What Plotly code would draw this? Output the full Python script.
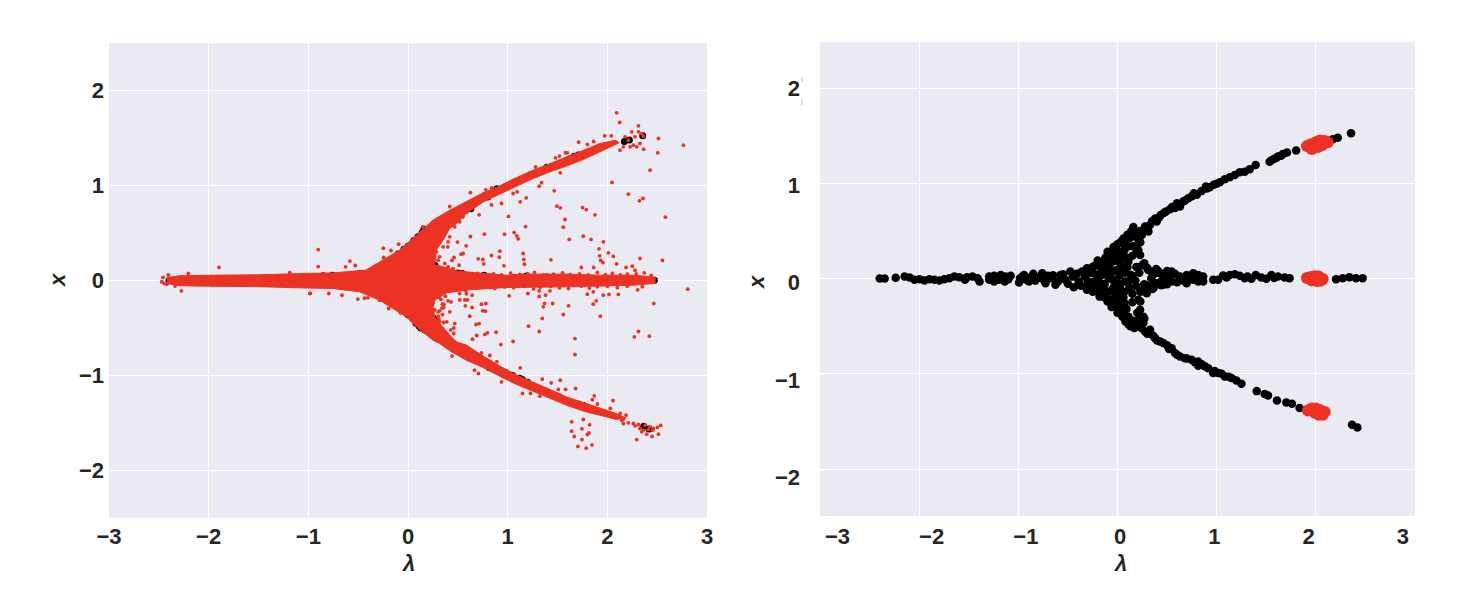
import plotly.graph_objects as go

# ---------- black sample (same points in both panels) ----------
stem_lam = [-2.398,-2.348,-2.237,-2.147,-2.097,-2.047,-1.997,-1.946,-1.896,-1.846,-1.796,-1.746,-1.696,-1.645,-1.595,-1.538,-1.518,-1.462,-1.411,-1.391,-1.294,-1.294,-1.244,-1.244,-1.194,-1.177,-1.137,-1.127,-1.077,-0.993,-0.983,-0.943,-0.893,-0.849,-0.809,-0.759,-0.726,-0.676,-0.625,-0.575,-0.525,-0.475,-0.441,-0.391,-0.358,-0.308,-0.308,-0.241,-1.27,-1.21,-1.16,-1.1,-0.96,-0.92,-0.87,-0.83,-0.78,-0.74,-0.7,-0.65,-0.6,-0.55,-0.5,-0.45,-0.41,-0.37,-0.33,-0.28]
stem_x = [0,0,0.007,0.021,0.01,-0.014,-0.007,-0.021,-0.007,-0.014,-0.021,-0.007,0.003,0.021,0.014,-0.014,0.014,0.021,0.003,-0.031,-0.014,0.021,-0.031,0.028,-0.014,0.038,-0.031,0.021,0.028,-0.042,0.003,0.038,-0.031,0.049,0.003,0.056,-0.049,0.003,-0.066,0.038,-0.014,0.073,-0.091,-0.031,0.073,0.108,-0.119,-0.031,0.005,-0.01,0.012,-0.008,0.02,-0.012,0.018,-0.022,0.025,-0.02,0.03,0.035,-0.03,0.045,-0.055,0.02,0.05,-0.075,0.02,-0.07]

fan_lam = [-0.24,-0.22,-0.2,-0.19,-0.18,-0.16,-0.14,-0.12,-0.1,-0.1,-0.09,-0.08,-0.06,-0.05,-0.04,-0.03,-0.02,0,0,0.01,0.01,0.02,0.03,0.03,0.04,0.05,0.05,0.06,0.07,0.07,0.08,0.08,0.09,0.09,0.1,0.1,0.11,0.12,0.12,0.13,0.14,0.14,0.15,0.15,0.16,0.17,0.18,0.19,0.2,0.21,0.22,0.05,0.1,0.06,0.13,0.16]
fan_x = [0.13,-0.13,0.19,0.02,-0.19,0.09,-0.1,0.22,0.28,-0.24,0,0.14,-0.3,0.07,0.33,-0.07,-0.18,0.36,-0.36,0.18,-0.26,0.03,0.38,-0.12,0.28,-0.4,0.1,-0.2,0.42,0.36,-0.45,-0.03,0.22,-0.32,0.46,0.12,-0.48,0.42,-0.1,0.04,0.5,-0.44,-0.25,0.24,0.34,-0.52,-0.02,0.12,-0.36,0.3,0.06,0.4,-0.42,0.42,-0.5,0.54]

fan2_lam = [-0.3,-0.3,-0.3,-0.25,-0.25,-0.25,-0.25,-0.21,-0.21,-0.21,-0.17,-0.17,-0.17,-0.17,-0.13,-0.13,-0.13,-0.13,-0.13,-0.09,-0.09,-0.09,-0.09,-0.05,-0.05,-0.05,-0.05,-0.05,-0.05,-0.01,-0.01,-0.01,-0.01,-0.01,-0.01,0.03,0.03,0.03,0.03,0.03,0.07,0.07,0.07,0.07,0.07,0.11,0.11,0.11,0.11,0.15,0.15,0.15,0.15,0.19,0.19,0.19,0.19,0.23,0.23,0.23,0.23,0.27,0.27,0.27,0.31,0.31,0.35,0.35,0.39,0.39,0.44,0.44,0.5,0.5]
fan2_x = [0.05,-0.03,-0.1,0.12,0.06,-0.05,-0.14,0.14,0.04,-0.08,0.17,0.03,-0.05,-0.16,0.2,0.12,0.05,-0.06,-0.2,0.24,0.08,-0.14,-0.22,0.26,0.18,-0.01,-0.11,-0.22,-0.27,0.3,0.24,0.09,-0.05,-0.14,-0.3,0.22,0.16,-0.06,-0.19,-0.33,0.3,0.06,-0.14,-0.26,-0.38,0.34,0.18,-0.04,-0.4,0.44,0.03,-0.16,-0.44,0.48,0.32,-0.08,-0.46,0.5,0.38,-0.14,-0.24,0.16,-0.06,-0.42,0.09,-0.08,0.06,-0.11,0.1,-0.05,0.05,-0.07,0.06,-0.06]

up_lam = [2.355,2.221,2.171,1.802,1.709,1.668,1.618,1.575,1.534,1.393,1.333,1.283,1.233,1.183,1.132,1.082,1.032,0.931,0.891,0.848,0.771,0.714,0.663,0.63,0.529,0.489,0.436,0.395,0.328,0.278,0.312,0.245,0.211,0.161,0.194,0.228,0.58,0.47,0.38,0.35,0.9,0.8,0.75,1.0,0.97,0.68,0.6,0.55,0.42,0.3,1.6,1.55,1.65]
up_x = [1.524,1.479,1.462,1.343,1.322,1.308,1.28,1.255,1.227,1.192,1.147,1.122,1.115,1.087,1.063,1.042,1.01,0.958,0.965,0.92,0.895,0.843,0.808,0.755,0.727,0.703,0.668,0.598,0.563,0.545,0.493,0.458,0.406,0.458,0.301,0.248,0.74,0.69,0.63,0.6,0.945,0.88,0.865,0.995,0.985,0.82,0.79,0.75,0.64,0.53,1.265,1.24,1.29]

mid_lam = [2.472,2.405,2.338,2.271,2.204,1.735,1.685,1.618,1.551,1.501,1.45,1.394,1.35,1.283,1.233,1.183,1.132,1.065,1.015,0.965,0.864,0.864,0.814,0.814,0.764,0.764,0.697,0.697,0.63,0.546,0.546,0.479,0.462,0.41,0.36,0.36,0.3,0.3,0.25,0.25,0.66,0.6,0.58,0.52,0.5,0.44,0.41,0.34,0.72,0.8,1.1,1.31,1.58]
mid_x = [0.003,0.003,0.014,0.003,-0.007,0.003,0.01,0.021,0.038,-0.003,0.01,0.038,-0.003,0.003,0.028,0.045,0.038,0.031,-0.014,-0.014,0.021,-0.031,0.038,-0.031,0.056,-0.014,-0.049,0.038,0.021,0.073,-0.031,0.003,-0.066,0.08,0.04,-0.06,0.11,-0.09,0.14,-0.13,-0.02,-0.04,0.05,0.01,0.08,-0.03,0.06,0,0.01,0.005,0.01,0.02,0.005]

low_lam = [2.419,2.365,1.836,1.759,1.702,1.608,1.518,1.484,1.404,1.25,1.199,1.149,1.082,1.015,0.965,0.915,0.814,0.814,0.747,0.68,0.63,0.546,0.58,0.462,0.429,0.379,0.328,0.278,0.261,0.211,0.178,0.228,0.211,0.295,0.362,0.5,0.6,0.7,0.78,0.85,0.88,0.98,1.05,1.12,0.4,0.3,0.24,0.36,0.26,0.52]
low_x = [-1.563,-1.535,-1.36,-1.315,-1.301,-1.28,-1.227,-1.213,-1.182,-1.105,-1.07,-1.045,-1.028,-0.993,-0.993,-0.941,-0.916,-0.871,-0.853,-0.836,-0.818,-0.731,-0.783,-0.678,-0.661,-0.626,-0.538,-0.556,-0.468,-0.434,-0.486,-0.329,-0.224,-0.154,-0.101,-0.7,-0.8,-0.84,-0.88,-0.9,-0.92,-0.97,-1.0,-1.03,-0.65,-0.58,-0.52,-0.6,-0.4,-0.74]

black_lam = stem_lam + fan_lam + fan2_lam + up_lam + mid_lam + low_lam
black_x = stem_x + fan_x + fan2_x + up_x + mid_x + low_x

# ---------- red envelope of the dense generated sample, left panel ----------
band_lam = [-2.42,-2.3,-2,-1.5,-1,-0.75,-0.42,-0.25,-0.084,0.084,0.25,0.419,0.586,0.754,0.92,1.09,1.256,1.424,1.59,1.76,1.926,2.08,2.12,1.926,1.76,1.59,1.424,1.256,1.09,0.92,0.754,0.586,0.486,0.419,0.352,0.285,0.268,0.318,0.486,0.754,0.988,1.256,1.59,1.926,2.26,2.48,2.48,2.26,1.59,0.988,0.586,0.386,0.268,0.251,0.268,0.335,0.419,0.486,0.586,0.754,0.92,1.09,1.256,1.424,1.59,1.76,1.926,2.09,2.19,2.09,1.926,1.76,1.59,1.424,1.256,1.09,0.92,0.754,0.586,0.419,0.318,0.251,0.084,-0.017,-0.151,-0.285,-0.486,-0.754,-1,-1.5,-2,-2.3,-2.42]
band_x = [0.03,0.05,0.055,0.06,0.075,0.08,0.11,0.214,0.32,0.477,0.635,0.74,0.828,0.923,0.996,1.084,1.161,1.23,1.295,1.37,1.442,1.477,1.45,1.354,1.274,1.204,1.144,1.074,0.993,0.905,0.828,0.705,0.6,0.547,0.425,0.32,0.16,0.154,0.102,0.074,0.056,0.067,0.067,0.056,0.056,0.035,-0.03,-0.05,-0.067,-0.074,-0.1,-0.13,-0.207,-0.277,-0.382,-0.47,-0.575,-0.646,-0.68,-0.796,-0.9,-0.996,-1.067,-1.147,-1.225,-1.284,-1.347,-1.4,-1.45,-1.463,-1.418,-1.375,-1.312,-1.242,-1.172,-1.095,-1.007,-0.916,-0.839,-0.74,-0.663,-0.628,-0.488,-0.382,-0.295,-0.207,-0.119,-0.084,-0.08,-0.065,-0.06,-0.055,-0.03]

# ---------- red scattered points, left panel ----------
above_lam = [2.094,2.124,2.312,2.513,2.764,2.506,2.365,2.429,2.047,2.211,2.322,2.358,2.583,1.317,1.467,1.528,1.055,1.095,1.126,1.186,0.838,0.938,1.494,1.528,1.752,1.789,1.876,1.575,1.558,1.008,1.179,0.714,1.065,1.092,1.106,0.968,0.767,0.626,1.618,1.759,1.836,1.96,1.916,2.01,1.923,2.06,1.933,1.956,2.094,2.328,2.553,1.156,1.162,1.169,1.434,0.921,0.915,0.838,0.704,0.75,0.76,0.962,1.739,1.863,2.188,2.251,2.278,0.553,0.533,0.462,0.442,0.513,0.583,0.496,0.399,-0.901,-0.901,-0.626,-0.583,-0.529,-0.248,-0.245,-0.171,-0.094,0.147,0.626,0.419,1.712,1.973,2.04,1.598,1.8,1.863,2.245,2.278,2.211,2.345,2.228,2.328,2.127,2.178,2.295,2.161,2.261,2.362,2.312]
above_x = [1.765,1.663,1.628,1.495,1.425,1.344,1.382,1.161,1.032,0.909,0.839,0.863,0.667,0.993,0.944,1.133,0.916,0.933,0.828,0.87,0.796,0.811,0.782,0.765,0.768,0.747,0.691,0.642,0.561,0.674,0.568,0.691,0.505,0.47,0.439,0.488,0.488,0.463,0.432,0.467,0.432,0.407,0.333,0.291,0.26,0.253,0.211,0.189,0.175,0.232,0.211,0.284,0.221,0.172,0.218,0.309,0.246,0.263,0.228,0.221,0.175,0.154,0.137,0.137,0.137,0.151,0.109,0.284,0.277,0.242,0.211,0.161,0.365,0.404,0.354,0.326,0.147,0.144,0.204,0.158,0.34,0.242,0.316,0.382,0.565,0.926,0.779,1.456,1.523,1.523,1.344,1.432,1.463,1.565,1.512,1.477,1.547,1.407,1.442,1.372,1.512,1.407,1.407,1.425,1.519,1.565]

below_lam = [-0.985,-0.794,-0.663,-0.503,-0.436,-0.402,-0.285,-0.194,-0.077,2.807,1.015,1.203,1.317,1.424,1.38,1.317,1.451,1.37,1.357,1.611,1.558,1.347,1.209,1.317,1.675,1.675,1.799,1.859,1.859,1.889,1.93,2.111,2.017,1.96,2.305,2.466,2.312,2.271,2.422,1.055,0.931,0.884,0.797,0.771,0.69,0.647,0.683,0.714,0.62,0.469,0.358,0.389,0.459,0.75,0.777,0.737,0.781,0.57,0.519,0.596,0.576,0.643,0.432,0.402,0.345,0.358,0.419,0.318,0.302,0.519,0.643,0.586,0.821,0.891,0.737,0.667,0.707,0.442,1.126,0.938,1.149,1.229,1.347,1.437,1.528,1.508,1.581,1.682,1.323,1.869,2.057,2.188,1.642,1.642,1.745,1.822,1.816,1.799,1.668,1.745,1.705,1.789,1.846,1.759,2.295,2.536,2.513,2.449,2.278,2.328,2.362,2.412,2.462,2.345,2.395,2.456,2.211,2.144,2.161,2.261,2.503,2.429,2.379,2.312]
below_x = [-0.137,-0.137,-0.154,-0.196,-0.186,-0.182,-0.207,-0.295,-0.34,-0.091,-0.161,-0.137,-0.109,-0.109,-0.154,-0.168,-0.242,-0.242,-0.277,-0.267,-0.358,-0.4,-0.481,-0.537,-0.611,-0.779,-0.144,-0.119,-0.249,-0.214,-0.375,-0.147,-0.147,-0.154,-0.098,-0.242,-0.537,-0.593,-0.586,-0.642,-0.674,-0.544,-0.551,-0.568,-0.579,-0.618,-0.463,-0.453,-0.375,-0.453,-0.442,-0.435,-0.558,-0.319,-0.323,-0.249,-0.242,-0.204,-0.204,-0.204,-0.267,-0.284,-0.225,-0.214,-0.249,-0.284,-0.33,-0.319,-0.375,-0.137,-0.154,-0.14,-0.789,-0.853,-0.761,-0.944,-0.979,-0.796,-0.919,-1.067,-1.189,-1.189,-1.039,-1.077,-1.049,-1.147,-1.147,-1.137,-1.218,-1.214,-1.263,-1.418,-1.488,-1.586,-1.561,-1.519,-1.604,-1.621,-1.642,-1.674,-1.747,-1.765,-1.73,-1.463,-1.674,-1.526,-1.618,-1.642,-1.53,-1.558,-1.575,-1.568,-1.558,-1.593,-1.618,-1.575,-1.498,-1.47,-1.505,-1.505,-1.547,-1.54,-1.523,-1.516]

tail_lam = [-2.458,-2.405,-2.471,-2.448,-2.42,-2.337,-2.274,-2.204,-1.896,-0.98,-1.187]
tail_x = [0.033,0.058,-0.012,-0.03,-0.04,-0.058,-0.11,0.075,0.138,-0.135,0.082]

fuzz_lam = [0.318,0.369,0.419,0.402,0.352,0.302,0.285,0.318,0.385,0.469,0.519,0.553,0.369,0.402,0.452,0.302,0.268,0.302,0.318,0.345,0.36,0.33,0.375,0.34,0.31,0.43,0.46,0.55,0.62,0.7,0.78,0.86,0.94,1.03,1.12,1.2,1.27,1.36,1.46,1.55,1.63,1.72,1.81,1.9,1.98,2.05,2.13,2.2,2.29,2.37,2.44,0.58,0.68,0.77,0.87,0.97,1.06,1.16,1.26,1.33,1.43,1.52,1.61,1.74,1.82,1.9,2.0,2.1,2.2,2.35,1.48,1.52,1.58,1.28,1.34,0.78,0.84,1.85,1.9,2.03,2.13,2.16]
fuzz_x = [0.495,0.512,0.46,0.407,0.354,0.389,0.302,0.249,0.547,0.565,0.618,0.67,0.179,0.144,0.126,0.214,-0.31,-0.33,-0.435,-0.36,-0.25,-0.2,-0.165,-0.29,-0.4,-0.52,-0.5,0.08,0.06,0.075,0.058,0.07,0.06,0.078,0.065,0.072,0.085,0.06,0.066,0.08,0.062,0.07,0.058,0.085,0.062,0.075,0.06,0.068,0.07,0.08,0.055,-0.105,-0.08,-0.07,-0.085,-0.068,-0.075,-0.062,-0.09,-0.07,-0.062,-0.078,-0.085,-0.06,-0.08,-0.065,-0.06,-0.075,-0.06,-0.065,1.29,1.31,1.345,1.195,1.03,0.955,0.975,-1.255,-1.3,-1.345,-1.4,-1.46]

red_lam = above_lam + below_lam + tail_lam + fuzz_lam
red_x = above_x + below_x + tail_x + fuzz_x

# ---------- red clusters, right panel ----------
cluster_up_lam = [1.91,1.95,1.95,1.99,2.0,2.03,2.04,2.07,2.09,2.12,1.96,1.99,2.02,2.06]
cluster_up_x = [1.39,1.37,1.41,1.39,1.43,1.41,1.45,1.42,1.445,1.43,1.36,1.41,1.38,1.4]
cluster_mid_lam = [1.91,1.95,1.99,2.03,2.07,2.05,2.01,1.96,1.99,2.03]
cluster_mid_x = [0.005,0.015,0.025,0.02,-0.005,-0.02,-0.025,-0.02,0,0]
cluster_low_lam = [1.92,1.96,2.0,2.04,2.09,2.07,2.03,1.99,1.98,2.03]
cluster_low_x = [-1.385,-1.365,-1.365,-1.38,-1.4,-1.43,-1.43,-1.41,-1.39,-1.4]

cluster_lam = cluster_up_lam + cluster_mid_lam + cluster_low_lam
cluster_x = cluster_up_x + cluster_mid_x + cluster_low_x

tick_vals = [-3,-2,-1,0,1,2,3]
y_tick_vals = [-2,-1,0,1,2]

RED = "#EC3223"
W, H = 1476, 602
BG = "#EAEAF2"
INK = "#262626"
FONT = "Liberation Sans"
tickfont = dict(family=FONT, size=22, color=INK, weight="bold")
titlefont = dict(family=FONT, size=22, color=INK)

def dx(a, b):
    return [a / W, b / W]
def dy(top, bottom):
    return [1 - bottom / H, 1 - top / H]

fig = go.Figure()
fig.add_trace(go.Scatter(x=black_lam, y=black_x, mode="markers", xaxis="x", yaxis="y",
                         marker=dict(color="black", size=7), showlegend=False, hoverinfo="skip"))
fig.add_trace(go.Scatter(x=band_lam, y=band_x, mode="lines", xaxis="x", yaxis="y", fill="toself",
                         fillcolor=RED, line=dict(color=RED, width=1), showlegend=False, hoverinfo="skip"))
fig.add_trace(go.Scatter(x=red_lam, y=red_x, mode="markers", xaxis="x", yaxis="y",
                         marker=dict(color=RED, size=3.8), showlegend=False, hoverinfo="skip"))
fig.add_trace(go.Scatter(x=black_lam, y=black_x, mode="markers", xaxis="x2", yaxis="y2",
                         marker=dict(color="black", size=8.5), showlegend=False, hoverinfo="skip"))
fig.add_trace(go.Scatter(x=cluster_lam, y=cluster_x, mode="markers", xaxis="x2", yaxis="y2",
                         marker=dict(color=RED, size=12), showlegend=False, hoverinfo="skip"))
# carrier for the right panel's own (offset) tick labels
fig.add_trace(go.Scatter(x=[0], y=[0], mode="markers", xaxis="x3", yaxis="y3",
                         marker=dict(size=1, opacity=0), showlegend=False, hoverinfo="skip"))

grid = dict(showgrid=True, gridcolor="white", gridwidth=1.2, zeroline=False, showline=False, ticks="", automargin=False)
plain = dict(showgrid=False, zeroline=False, showline=False, ticks="", automargin=False)
note = dict(xref="paper", yref="paper", showarrow=False, font=titlefont, xanchor="center", yanchor="middle")
fig.update_layout(
    width=W, height=H, margin=dict(l=0, r=0, t=0, b=0, autoexpand=False),
    paper_bgcolor="white", plot_bgcolor=BG, showlegend=False,
    xaxis=dict(domain=dx(109, 707), range=[-3, 3], anchor="y", tickvals=tick_vals, tickfont=tickfont,
               ticklabelstandoff=3, **grid),
    yaxis=dict(domain=dy(43, 518), range=[-2.5, 2.5], anchor="x", tickvals=y_tick_vals, tickfont=tickfont,
               ticklabelstandoff=4, **grid),
    xaxis2=dict(domain=dx(820, 1415), range=[-3, 3], anchor="y2", tickvals=tick_vals, showticklabels=False, **grid),
    yaxis2=dict(domain=dy(42, 516), range=[-2.493, 2.483], anchor="x2", tickvals=y_tick_vals, showticklabels=False, **grid),
    xaxis3=dict(domain=dx(820, 1415), range=[-3.185, 3.13], anchor="y3", overlaying="x2", tickvals=tick_vals,
                tickfont=tickfont, ticklabelstandoff=5, **plain),
    yaxis3=dict(domain=dy(42, 516), range=[-2.40, 2.473], anchor="x3", overlaying="y2", tickvals=y_tick_vals,
                tickfont=tickfont, ticklabelstandoff=19, **plain),
    annotations=[
        dict(text="<b><i>λ</i></b>", x=408/W, y=1-563/H, **note),
        dict(text="<b><i>x</i></b>", x=58/W, y=1-280/H, textangle=-90, **note),
        dict(text="<b><i>λ</i></b>", x=1120/W, y=1-563/H, **note),
        dict(text="<b><i>x</i></b>", x=756/W, y=1-282/H, textangle=-90, **note),
    ],
    shapes=[
        dict(type="line", xref="paper", yref="paper", x0=802/W, x1=802/W, y0=1-82/H, y1=1-77/H,
             line=dict(color="#bbbbbb", width=1)),
        dict(type="line", xref="paper", yref="paper", x0=802/W, x1=802/W, y0=1-105/H, y1=1-99/H,
             line=dict(color="#bbbbbb", width=1)),
    ],
)

fig.write_html("out.html", config=dict(displayModeBar=False),
               post_script="document.body.style.margin='0';document.body.style.overflow='hidden';")
